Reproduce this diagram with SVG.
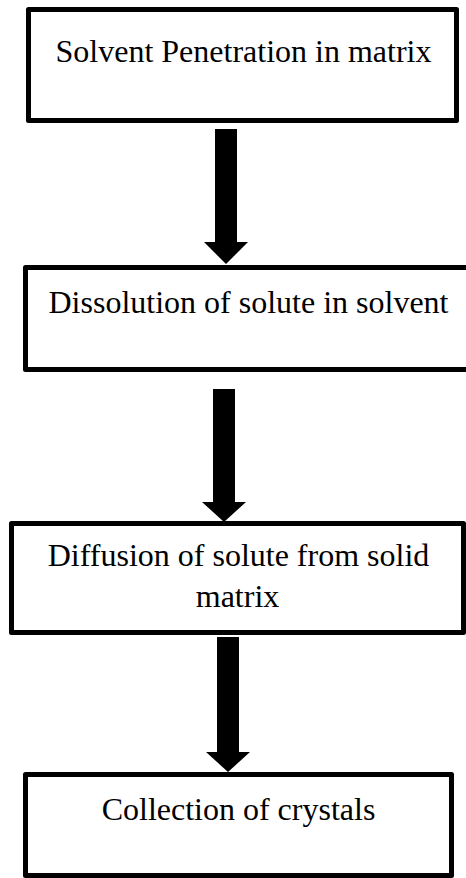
<svg xmlns="http://www.w3.org/2000/svg" width="466" height="878" viewBox="0 0 466 878">
<style>
.box{fill:#fff;stroke:#000;stroke-width:5;stroke-linejoin:round}
.arr{fill:#000;stroke:none}
</style>
<rect width="466" height="878" fill="#fff"/>
<g font-family="Liberation Serif, Times New Roman, serif" font-size="32" fill="#000" text-anchor="middle">
<g id="node1">
<rect class="box" x="28.5" y="9.5" width="428" height="111"/>
<text x="243.5" y="62">Solvent Penetration in matrix</text>
</g>
<g id="node2">
<rect class="box" x="25.5" y="267.5" width="446" height="102"/>
<text x="248.5" y="313">Dissolution of solute in solvent</text>
</g>
<g id="node3">
<rect class="box" x="11.5" y="523.5" width="452" height="109"/>
<text x="238.5" y="566">Diffusion of solute from solid</text>
<text x="237.5" y="607">matrix</text>
</g>
<g id="node4">
<rect class="box" x="25.5" y="774.5" width="426" height="101"/>
<text x="238.5" y="820">Collection of crystals</text>
</g>
</g>
<g id="connectors">
<polygon class="arr" points="215,129 237,129 237,242 248,242 226,264 204,242 215,242"/>
<polygon class="arr" points="213,389 235,389 235,502 246,502 224,522 202,502 213,502"/>
<polygon class="arr" points="217,637 239,637 239,752 250,752 228,772 206,752 217,752"/>
</g>
</svg>
